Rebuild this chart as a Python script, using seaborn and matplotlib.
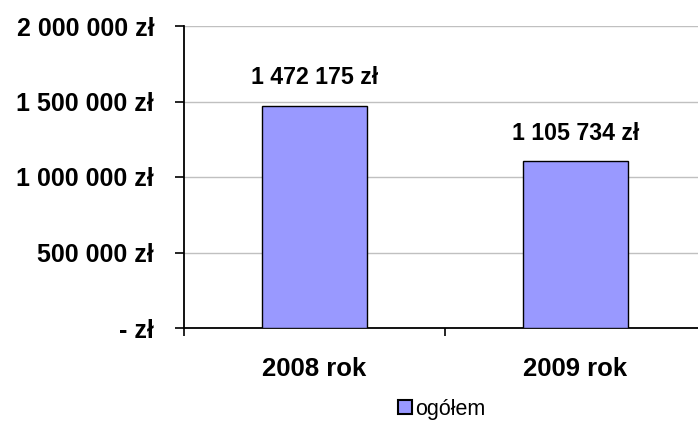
import numpy as np
import pandas as pd
import matplotlib
matplotlib.use("Agg")
import matplotlib.pyplot as plt
import seaborn as sns

years = ["2008 rok", "2009 rok"]
values = [1472175, 1105734]
value_labels = ["1 472 175 zł", "1 105 734 zł"]
series_name = "ogółem"
y_ticks = [0, 500000, 1000000, 1500000, 2000000]
y_tick_labels = ["- zł", "500 000 zł", "1 000 000 zł", "1 500 000 zł", "2 000 000 zł"]

sns.set_style("white")
plt.rcParams['font.family'] = ['Liberation Sans', 'DejaVu Sans']
plt.rcParams['text.color'] = 'black'
plt.rcParams['xtick.color'] = 'black'
plt.rcParams['ytick.color'] = 'black'

df = pd.DataFrame({'rok': years, 'kwota': values, 'seria': series_name})

fig = plt.figure(figsize=(6.98, 4.25), dpi=100)
# axes runs a little past the right edge, like the original
ax = fig.add_axes([184/698, 1-328/425, (706-184)/698, (328-26)/425])

sns.barplot(data=df, x='rok', y='kwota', hue='seria', palette=['#9999FF'],
            width=0.4, edgecolor='black', linewidth=1, saturation=1, ax=ax, zorder=3)

ax.set_xlim(-0.5, 1.5)
ax.set_ylim(0, 2000000)
ax.set_yticks(y_ticks)
ax.set_yticklabels(y_tick_labels, fontsize=18, fontweight='bold')
ax.yaxis.grid(True, color='#c0c0c0', linewidth=1, zorder=0)
ax.set_axisbelow(True)
ax.tick_params(axis='y', direction='out', length=6.5, width=1.2, color='black', left=True, pad=15)
ax.tick_params(axis='x', which='major', length=0, pad=21)
ax.set_xticks([-0.5, 0.5, 1.5], minor=True)
ax.tick_params(axis='x', which='minor', direction='out', length=6, width=1.2, color='black', bottom=True)
for lab in ax.get_xticklabels():
    lab.set_fontsize(18.5)
    lab.set_fontweight('bold')
ax.set_xlabel('')
ax.set_ylabel('')

for s in ['top', 'right']:
    ax.spines[s].set_visible(False)
for s in ['left', 'bottom']:
    ax.spines[s].set_color('black')
    ax.spines[s].set_linewidth(1.3)

for i, (v, t) in enumerate(zip(values, value_labels)):
    ax.text(i, v + 185000, t, ha='center', va='center', fontsize=16.7, fontweight='bold',
            bbox=dict(facecolor='white', edgecolor='none', pad=4), zorder=4)

leg = ax.legend(loc='center', bbox_to_anchor=(442/698, 1-409/425), bbox_transform=fig.transFigure,
                frameon=False, fontsize=15.5, handlelength=0.65, handleheight=0.65, handletextpad=0.15,
                borderpad=0)
for h in leg.legend_handles:
    h.set_edgecolor('black')
    h.set_linewidth(1.5)

fig.savefig('out.png', dpi=100)
